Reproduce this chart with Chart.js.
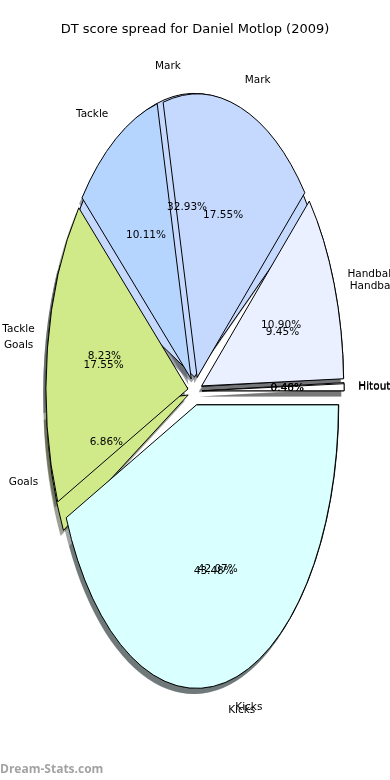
<!DOCTYPE html>
<html>
<head>
<meta charset="utf-8">
<script src="https://cdn.jsdelivr.net/npm/chart.js@4.4.1/dist/chart.umd.min.js"></script>
<style>
  html, body { margin: 0; padding: 0; background: #fff; }
  canvas { display: block; }
</style>
</head>
<body>
<canvas id="spreadChart" width="390" height="780"></canvas>
<script>
// two seasons' worth of spread, drawn over each other like the original
const categories = ['Hitout', 'Handball', 'Mark', 'Tackle', 'Goals', 'Kicks'];
const spreadA = [0.40, 10.90, 17.55, 10.11, 17.55, 43.48];
const spreadB = [0.46, 9.45, 32.93, 8.23, 6.86, 42.07];
const sliceColors = ['#ffffff', '#eaf0ff', '#c5d9ff', '#b5d5ff', '#d0ea8a', '#daffff'];
const chartTitle = 'DT score spread for Daniel Motlop (2009)';

// pie geometry (stretched ellipse)
const CX = 195, CY = 391, RX = 142, RY = 283.5, EXPLODE = 0.05;

function shadowColor(hex) {
    const r = parseInt(hex.slice(1, 3), 16) * 0.3;
    const g = parseInt(hex.slice(3, 5), 16) * 0.3;
    const b = parseInt(hex.slice(5, 7), 16) * 0.3;
    return 'rgba(' + r + ',' + g + ',' + b + ',0.5)';
}

const ellipsePie = {
    id: 'ellipsePie',
    afterUpdate(chart) {
        chart.data.datasets.forEach((ds, i) => {
            chart.getDatasetMeta(i).data.forEach(arc => {
                const mid = (arc.startAngle + arc.endAngle) / 2;
                arc.x = CX + EXPLODE * RX * Math.cos(mid);
                arc.y = CY + EXPLODE * RX * Math.sin(mid);
                arc.innerRadius = 0;
                arc.outerRadius = RX;
            });
        });
    },
    beforeDatasetsDraw(chart) {
        const ctx = chart.ctx;
        ctx.save();
        ctx.translate(CX, CY);
        ctx.scale(1, -RY / RX);
        ctx.translate(-CX, -CY);

        // shadows under every wedge of both pies
        const sh = -0.02 * RX;
        chart.data.datasets.forEach((ds, i) => {
            chart.getDatasetMeta(i).data.forEach((arc, j) => {
                ctx.beginPath();
                ctx.moveTo(arc.x + sh, arc.y + sh);
                ctx.arc(arc.x + sh, arc.y + sh, arc.outerRadius, arc.startAngle, arc.endAngle);
                ctx.closePath();
                ctx.fillStyle = shadowColor(sliceColors[j]);
                ctx.fill();
            });
        });

        // keep edge lines 1px wide under the stretch
        const stroke = ctx.stroke;
        ctx.stroke = function () {
            this.save();
            this.setTransform(1, 0, 0, 1, 0, 0);
            stroke.apply(this, arguments);
            this.restore();
        };
    },
    afterDatasetsDraw(chart) {
        const ctx = chart.ctx;
        delete ctx.stroke;
        ctx.restore();

        ctx.save();
        ctx.fillStyle = '#000';
        ctx.font = '10.5px "DejaVu Sans"';
        ctx.textBaseline = 'middle';
        chart.data.datasets.forEach((ds, i) => {
            const total = ds.data.reduce((a, b) => a + b, 0);
            chart.getDatasetMeta(i).data.forEach((arc, j) => {
                const mid = (arc.startAngle + arc.endAngle) / 2;
                const c = Math.cos(mid), s = Math.sin(mid);
                const lx = CX + (EXPLODE + 1.1) * RX * c;
                const ly = CY - (EXPLODE + 1.1) * RY * s;
                ctx.textAlign = lx > CX ? 'left' : 'right';
                ctx.fillText(chart.data.labels[j], lx, ly);
                const px = CX + (EXPLODE + 0.6) * RX * c;
                const py = CY - (EXPLODE + 0.6) * RY * s;
                ctx.textAlign = 'center';
                ctx.fillText((100 * ds.data[j] / total).toFixed(2) + '%', px, py);
            });
        });
        ctx.restore();
    },
    afterDraw(chart) {
        const ctx = chart.ctx;
        ctx.save();
        ctx.fillStyle = '#a3a3a3';
        ctx.font = 'bold 12px "Open Sans"';
        ctx.textAlign = 'left';
        ctx.textBaseline = 'middle';
        ctx.fillText('Dream-Stats.com', 0, 770);
        ctx.restore();
    }
};

Chart.defaults.font.family = '"DejaVu Sans"';

const ctx = document.getElementById('spreadChart').getContext('2d');
const spreadChart = new Chart(ctx, {
    type: 'pie',
    data: {
        labels: categories,
        datasets: [{
            label: 'A',
            data: spreadA,
            backgroundColor: sliceColors,
            borderColor: '#000',
            borderWidth: 1,
            borderJoinStyle: 'miter',
            clip: false
        }, {
            label: 'B',
            data: spreadB,
            backgroundColor: sliceColors,
            borderColor: '#000',
            borderWidth: 1,
            borderJoinStyle: 'miter',
            clip: false
        }]
    },
    options: {
        responsive: false,
        animation: false,
        devicePixelRatio: 1,
        events: [],
        rotation: 90,
        plugins: {
            legend: { display: false },
            tooltip: { enabled: false },
            title: {
                display: true,
                text: chartTitle,
                color: '#000',
                font: { size: 13, weight: 'normal' },
                padding: { top: 22, bottom: 10 }
            }
        }
    },
    plugins: [ellipsePie]
});
</script>
</body>
</html>
